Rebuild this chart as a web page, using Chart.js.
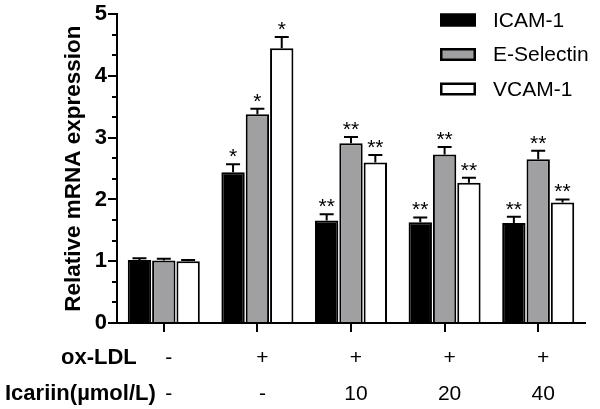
<!DOCTYPE html>
<html>
<head>
<meta charset="utf-8">
<script src="https://cdn.jsdelivr.net/npm/chart.js@4.4.1/dist/chart.umd.min.js"></script>
<style>
html,body{margin:0;padding:0;background:#fff;}
#wrap{width:600px;height:409px;}
</style>
</head>
<body>
<div id="wrap"><canvas id="c" width="600" height="409"></canvas></div>
<script>
// ---- data ----
const categories = ['g1', 'g2', 'g3', 'g4', 'g5'];
const oxLDL = ['-', '+', '+', '+', '+'];
const icariin = ['-', '-', '10', '20', '40'];
const seriesNames = ['ICAM-1', 'E-Selectin', 'VCAM-1'];
const icamValues = [1.02, 2.44, 1.66, 1.63, 1.62];
const icamErrors = [0.03, 0.13, 0.10, 0.08, 0.10];
const eselValues = [1.01, 3.38, 2.91, 2.73, 2.65];
const eselErrors = [0.03, 0.09, 0.10, 0.12, 0.14];
const vcamValues = [1.00, 4.45, 2.60, 2.27, 1.95];
const vcamErrors = [0.02, 0.18, 0.12, 0.08, 0.05];
const icamSig = ['', '*', '**', '**', '**'];
const eselSig = ['', '*', '**', '**', '**'];
const vcamSig = ['', '*', '**', '**', '**'];
const yTicks = [0, 1, 2, 3, 4, 5];
const rowTitles = ['ox-LDL', 'Icariin(\u00b5mol/L)'];
const yTitle = 'Relative mRNA expression';

const FONT = "'Liberation Sans', Arial, Helvetica, sans-serif";

const errorsBySeries = [icamErrors, eselErrors, vcamErrors];
const sigBySeries = [icamSig, eselSig, vcamSig];

const extras = {
  id: 'extras',
  afterDraw(chart) {
    const ctx = chart.ctx;
    const ys = chart.scales.y;
    ctx.save();
    // minor ticks on y axis
    ctx.strokeStyle = '#000';
    ctx.lineWidth = 2;
    const ax = ys.right;
    for (let i = 0; i < 5; i++) {
      for (let k = 1; k <= 2; k++) {
        const v = i + k / 3;
        const py = Math.round(ys.getPixelForValue(v));
        ctx.beginPath();
        ctx.moveTo(ax - 5, py);
        ctx.lineTo(ax, py);
        ctx.stroke();
      }
    }
    // error bars and significance marks
    chart.data.datasets.forEach((ds, di) => {
      const meta = chart.getDatasetMeta(di);
      meta.data.forEach((bar, i) => {
        const top = ds.data[i] + errorsBySeries[di][i];
        const yTop = ys.getPixelForValue(top);
        ctx.strokeStyle = '#000';
        ctx.lineWidth = 2;
        ctx.beginPath();
        ctx.moveTo(bar.x, bar.y);
        ctx.lineTo(bar.x, yTop);
        ctx.moveTo(bar.x - 7, yTop);
        ctx.lineTo(bar.x + 7, yTop);
        ctx.stroke();
        const s = sigBySeries[di][i];
        if (s) {
          ctx.fillStyle = '#000';
          ctx.font = '21px ' + FONT;
          ctx.textAlign = 'center';
          ctx.textBaseline = 'alphabetic';
          ctx.fillText(s, bar.x, yTop - 1);
        }
      });
    });
    // legend
    const lx = 440, lw = 36, lh = 13, tx = 493;
    const rows = [20, 54.5, 89];
    chart.data.datasets.forEach((ds, di) => {
      const cy = rows[di];
      ctx.fillStyle = ds.backgroundColor;
      ctx.fillRect(lx, cy - lh / 2, lw, lh);
      ctx.strokeStyle = '#000';
      ctx.lineWidth = 2.5;
      ctx.strokeRect(lx + 1.25, cy - lh / 2 + 1.25, lw - 2.5, lh - 2.5);
      ctx.fillStyle = '#000';
      ctx.font = '21px ' + FONT;
      ctx.textAlign = 'left';
      ctx.textBaseline = 'middle';
      ctx.fillText(ds.label, tx, cy + 1);
    });
    // row titles under x axis
    ctx.fillStyle = '#000';
    ctx.font = 'bold 22px ' + FONT;
    ctx.textAlign = 'left';
    ctx.textBaseline = 'middle';
    ctx.fillText(rowTitles[0], 61, 358);
    ctx.fillText(rowTitles[1], 5, 394);
    ctx.restore();
  }
};

new Chart(document.getElementById('c'), {
  type: 'bar',
  data: {
    labels: categories.map((c, i) => [oxLDL[i], icariin[i]]),
    datasets: [
      { label: seriesNames[0], data: icamValues, backgroundColor: '#000000', borderColor: '#000', borderWidth: 2 },
      { label: seriesNames[1], data: eselValues, backgroundColor: '#a0a0a3', borderColor: '#000', borderWidth: 2 },
      { label: seriesNames[2], data: vcamValues, backgroundColor: '#ffffff', borderColor: '#000', borderWidth: 2 }
    ]
  },
  options: {
    responsive: false,
    animation: false,
    events: [],
    categoryPercentage: 0.78,
    barPercentage: 0.96,
    layout: { padding: { top: 14, right: 15, left: 0, bottom: 0 } },
    plugins: { legend: { display: false }, tooltip: { enabled: false } },
    scales: {
      x: {
        afterFit(scale) { scale.height = 86; },
        grid: { display: true, drawOnChartArea: false, drawTicks: true, tickLength: 9, offset: false, color: '#000', lineWidth: 2 },
        border: { display: true, color: '#000', width: 2 },
        ticks: {
          color: '#000',
          font: { family: FONT, size: 21, lineHeight: 36 / 21 },
          padding: 8,
          labelOffset: 5,
          maxRotation: 0,
          autoSkip: false
        }
      },
      y: {
        min: 0,
        max: 5,
        afterFit(scale) { scale.width = 117; },
        afterBuildTicks(scale) { scale.ticks = yTicks.map(v => ({ value: v })); },
        grid: { display: true, drawOnChartArea: false, drawTicks: true, tickLength: 9, color: '#000', lineWidth: 2 },
        border: { display: true, color: '#000', width: 2 },
        ticks: {
          color: '#000',
          font: { family: FONT, size: 22, weight: 'bold' },
          padding: 1
        },
        title: {
          display: true,
          text: yTitle,
          color: '#000',
          font: { family: FONT, size: 22.5, weight: 'bold', lineHeight: 1.2 },
          padding: { top: 60, bottom: 0 }
        }
      }
    }
  },
  plugins: [extras]
});
</script>
</body>
</html>
